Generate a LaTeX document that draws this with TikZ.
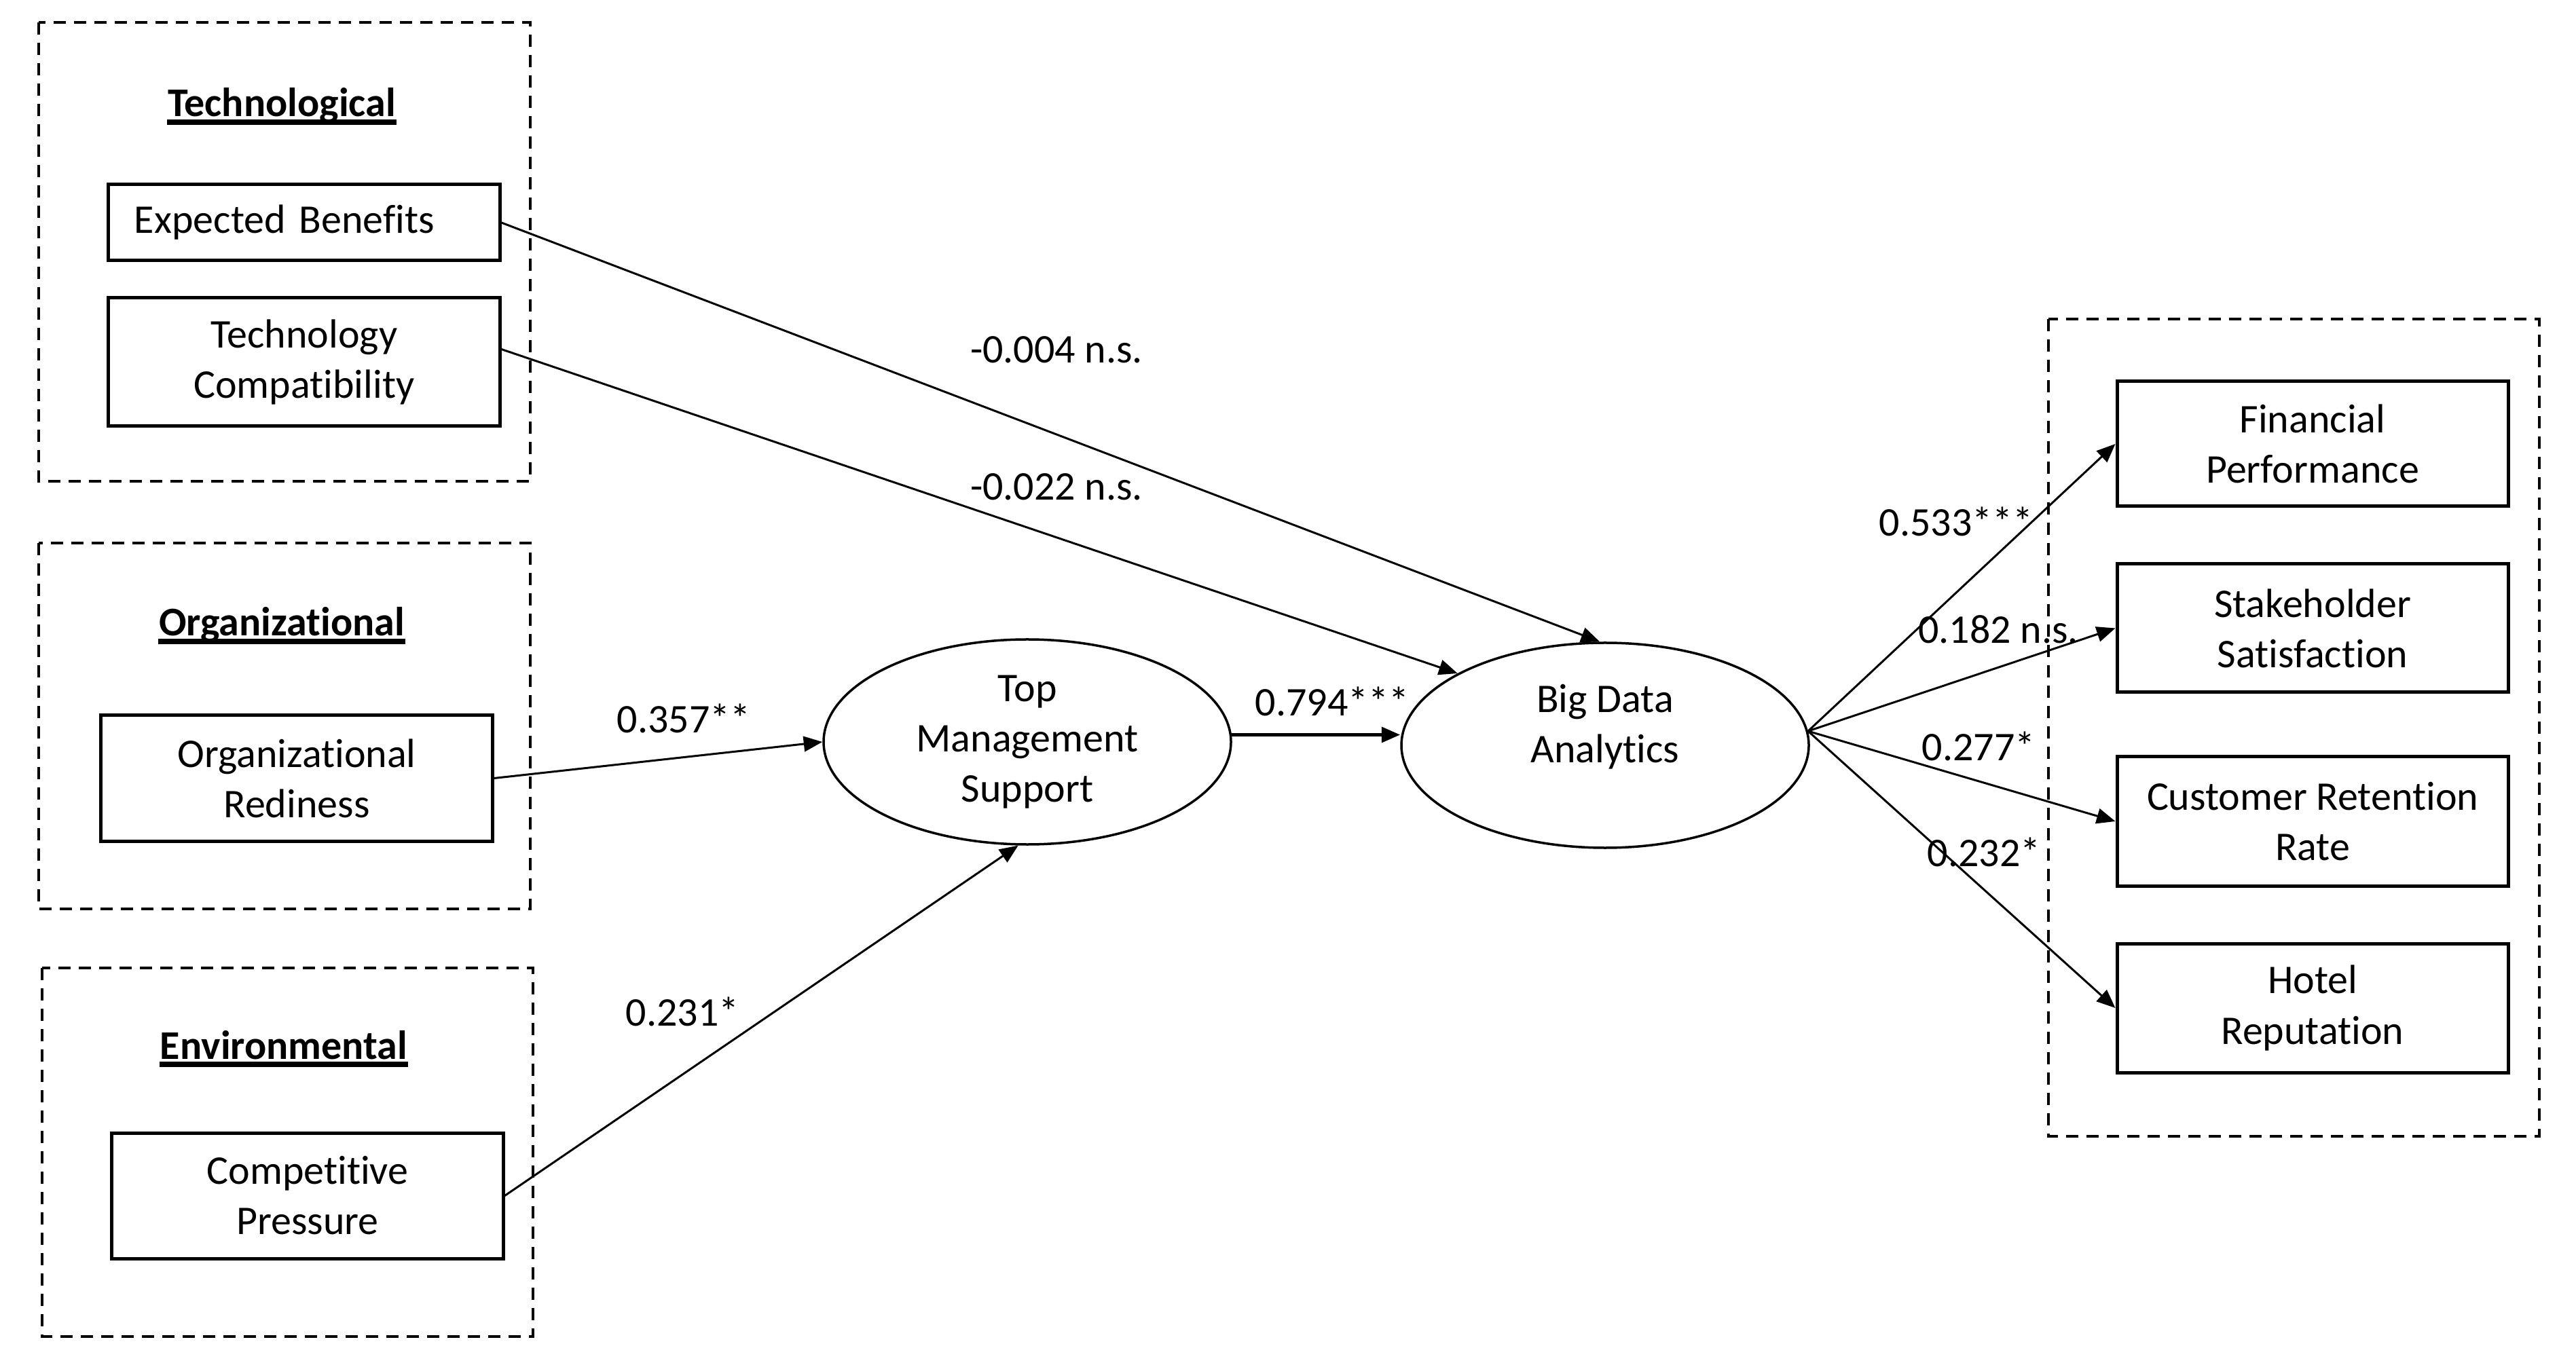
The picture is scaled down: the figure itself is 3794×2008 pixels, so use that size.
\documentclass[tikz,border=0pt]{standalone}
\usepackage{fontspec}
\setmainfont{Carlito}[Ligatures={NoCommon}]
\usetikzlibrary{arrows.meta,shapes.geometric}
\begin{document}
\begin{tikzpicture}[x=0.2pt,y=-0.2pt,
  font=\fontsize{12pt}{14.8pt}\selectfont,
  group/.style={draw, line width=0.9pt, dash pattern=on 3.6pt off 2.4pt},
  var/.style={draw, line width=1pt, minimum width=115.2pt, minimum height=37.6pt, inner sep=0pt, align=center},
  latent/.style={draw, ellipse, line width=0.7pt, minimum width=120pt, minimum height=60.4pt, inner sep=0pt, align=center},
  title/.style={font=\fontsize{12pt}{14.8pt}\selectfont\bfseries, inner sep=0pt, anchor=base},
  uline/.style={line width=1.7pt},
  coef/.style={inner sep=0pt},
  link/.style={-{Triangle[length=5.5pt,width=4.5pt]}, line width=0.6pt},
]
\useasboundingbox (0,0) rectangle (3794,2008);

% group frames
\draw[group] (57,33) rectangle (781,709);
\draw[group] (57,800) rectangle (781,1339);
\draw[group] (62,1426) rectangle (785,1969);
\draw[group] (3017,470) rectangle (3740,1674);

% titles
\node[title] (tT) at (415,172) {Technological};
\draw[uline] ([yshift=-1.6pt]tT.base west) -- ([yshift=-1.6pt]tT.base east);
\node[title] (tO) at (415,937) {Organizational};
\draw[uline] ([yshift=-1.6pt]tO.base west) -- ([yshift=-1.6pt]tO.base east);
\node[title] (tE) at (418,1560) {Environmental};
\draw[uline] ([yshift=-1.6pt]tE.base west) -- ([yshift=-1.6pt]tE.base east);

% observed variables
\node[var, minimum height=22.4pt, text width=100pt, inner xsep=7.6pt, align=left] (EB) at (448,328) {Expected Benefits};
\node[var, minimum height=37.8pt] (TC) at (448,533.5) {Technology\\Compatibility};
\node[var, minimum height=37pt] (OR) at (437,1146.5) {Organizational\\Rediness};
\node[var, minimum height=37pt] (CP) at (453,1761.5) {Competitive\\Pressure};

\node[var, minimum height=36.8pt] (FP) at (3406,654) {Financial\\Performance};
\node[var, minimum height=37.8pt] (SS) at (3406,925.5) {Stakeholder\\Satisfaction};
\node[var, minimum height=38pt] (CRR) at (3406,1210) {Customer Retention\\Rate};
\node[var, minimum height=38pt] (HR) at (3406,1485) {Hotel\\Reputation};

% latent variables
\node[latent] (TMS) at (1513,1093) {Top\\Management\\Support};
\node[latent] (BDA) at (2364,1098) {};
\node[inner sep=0pt, align=center] (BDAt) at (2364,1071) {Big Data\\Analytics};

% connectors
\draw[link] (EB.east) -- (BDA.93);
\draw[link] ([yshift=3.8pt]TC.east) -- (BDA.154);
\draw[link] (OR.east) -- (TMS.west);
\draw[link] (CP.east) -- (TMS.265);
\draw[link, line width=1pt] (TMS.2) -- (TMS.2 -| BDA.west);
\draw[link] (BDA.4) -- (FP.west);
\draw[link] (BDA.4) -- (SS.west);
\draw[link] (BDA.4) -- (CRR.west);
\draw[link] (BDA.4) -- (HR.west);

% coefficients
\node[coef] (c1) at (1556,515) {-0.004 n.s.};
\node[coef] (c2) at (1556,717) {-0.022 n.s.};
\node[coef] (c3) at (1007,1058) {0.357**};
\node[coef] (c4) at (1005,1490) {0.231*};
\node[coef] (c5) at (1962,1033) {0.794***};
\node[coef] (c6) at (2881,768) {0.533***};
\node[coef] (c7) at (2943,927) {0.182 n.s.};
\node[coef] (c8) at (2914,1099) {0.277*};
\node[coef] (c9) at (2922,1255) {0.232*};
\end{tikzpicture}
\end{document}
